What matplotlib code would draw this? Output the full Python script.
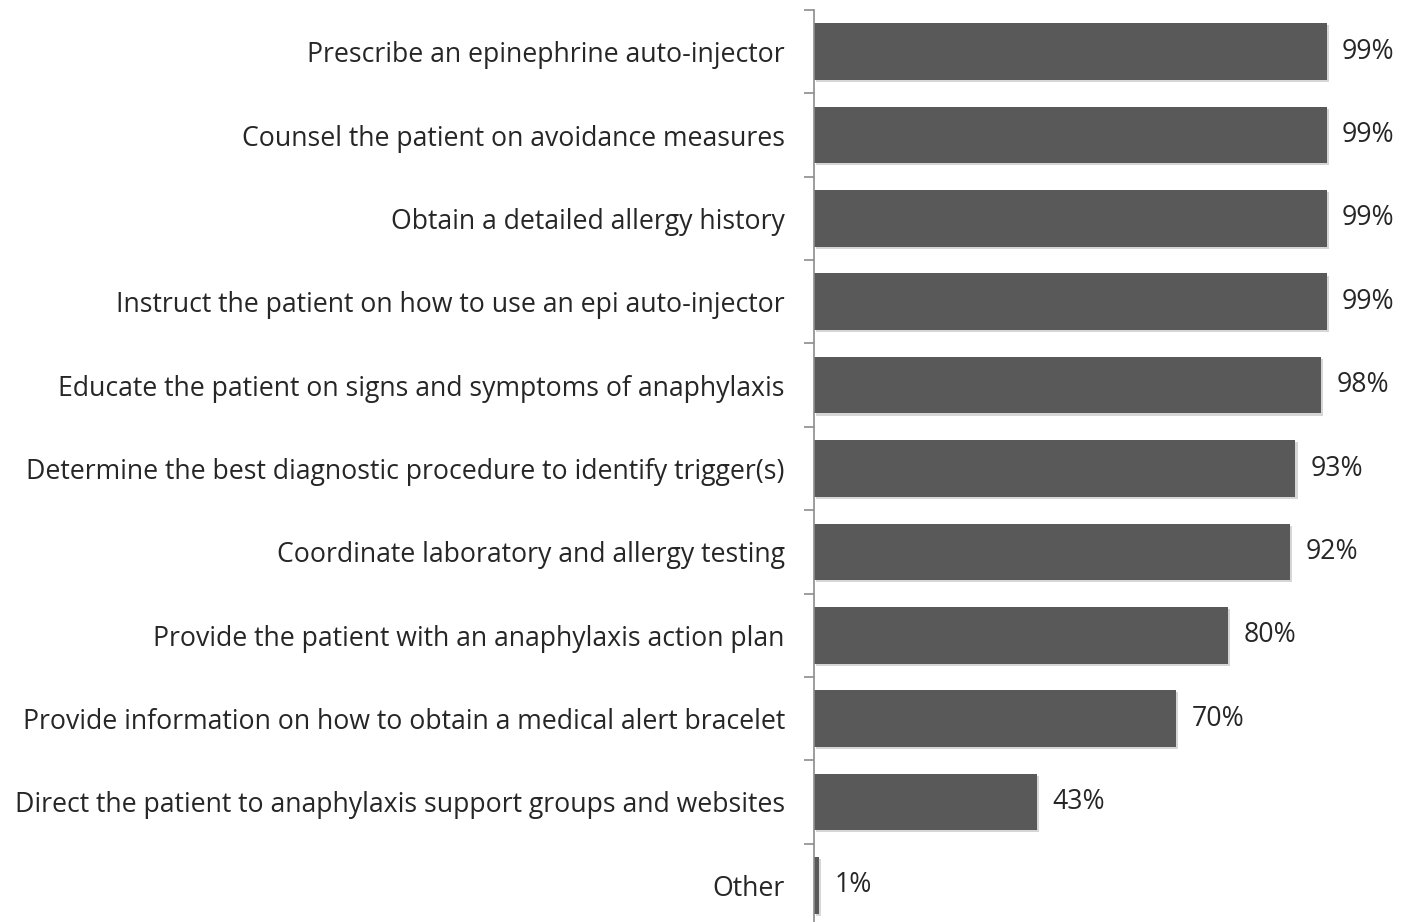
import matplotlib.pyplot as plt
import matplotlib.patheffects as pe
from matplotlib.ticker import FixedLocator

# 各项措施及其百分比
actions = [
    'Prescribe an epinephrine auto-injector',
    'Counsel the patient on avoidance measures',
    'Obtain a detailed allergy history',
    'Instruct the patient on how to use an epi auto-injector',
    'Educate the patient on signs and symptoms of anaphylaxis',
    'Determine the best diagnostic procedure to identify trigger(s)',
    'Coordinate laboratory and allergy testing',
    'Provide the patient with an anaphylaxis action plan',
    'Provide information on how to obtain a medical alert bracelet',
    'Direct the patient to anaphylaxis support groups and websites',
    'Other',
]
percents = [99, 99, 99, 99, 98, 93, 92, 80, 70, 43, 1]

plt.rcParams['font.family'] = ['Open Sans', 'DejaVu Sans']

fig = plt.figure(figsize=(14.04, 9.22), dpi=100)
ax = fig.add_axes([814 / 1404, -5 / 922, 585 / 1404, 917 / 922])

y = list(range(len(actions)))
bars = ax.barh(y, percents, height=0.68, color='#595959', zorder=2)
for b in bars:
    b.set_path_effects([pe.SimplePatchShadow(offset=(1.5, -1.5), shadow_rgbFace='#bbbbbb', alpha=0.6),
                        pe.Normal()])

# 数值标签
for yi, v in zip(y, percents):
    ax.annotate(f'{v}%', (v, yi), xytext=(11, 0), textcoords='offset points',
                va='center', ha='left', fontsize=19.2, color='#262626')

ax.set_ylim(len(actions) - 0.5, -0.5)
ax.set_xlim(0, 113)
ax.set_yticks(y)
ax.set_yticklabels(actions, fontsize=19.2, color='#262626')
ax.tick_params(axis='y', which='major', length=0, pad=21)
ax.yaxis.set_minor_locator(FixedLocator([i - 0.5 for i in range(len(actions) + 1)]))
ax.tick_params(axis='y', which='minor', length=7, width=1.2, color='#8c8c8c')

ax.set_xticks([])
for s in ['top', 'right', 'bottom']:
    ax.spines[s].set_visible(False)
ax.spines['left'].set_color('#8c8c8c')
ax.spines['left'].set_linewidth(1.2)

fig.savefig('out.png', dpi=100)
